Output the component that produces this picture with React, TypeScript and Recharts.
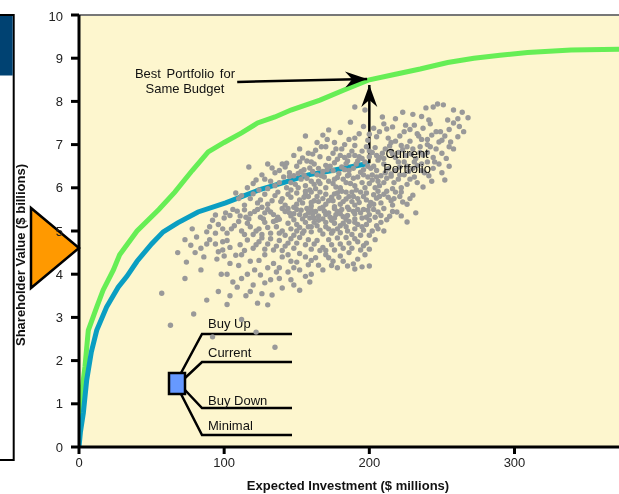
import React from "react";
import {
  ComposedChart,
  Line,
  Scatter,
  XAxis,
  YAxis,
  CartesianGrid,
  ReferenceLine,
  ReferenceDot,
  Customized,
} from "recharts";

const FONT = "Arial, 'Liberation Sans', Helvetica, sans-serif";

const xTicks = [0, 100, 200, 300];
const yTicks = [0, 1, 2, 3, 4, 5, 6, 7, 8, 9, 10];
const xLabel = "Expected Investment ($ millions)";
const yLabel = "Shareholder Value ($ billions)";
const optionLabels = ["Buy Up", "Current", "Buy Down", "Minimal"];
const currentLabel = ["Current", "Portfolio"];

// Efficient frontier (green): [investment $M, value $B]
const efficientFrontier: [number, number][] = [
  [0, 0.62], [1.8, 1.25], [4.1, 1.85], [6.4, 2.7], [12.2, 3.24], [16.6, 3.63],
  [23.7, 4.1], [28, 4.45], [40, 5.0], [55, 5.5], [66, 5.9], [78, 6.4],
  [89, 6.83], [100, 7.05], [112, 7.27], [123, 7.5], [135, 7.64], [146, 7.8],
  [166, 8.03], [183, 8.27], [200, 8.5], [218, 8.63], [235, 8.75], [254, 8.9],
  [272, 9.0], [290, 9.07], [309, 9.13], [339, 9.19], [372, 9.21],
];

// Current-budget frontier (blue)
const currentFrontier: [number, number][] = [
  [0, 0], [1, 0.35], [3, 0.79], [5.3, 1.55], [8.5, 2.2], [12.2, 2.7],
  [19, 3.24], [27, 3.7], [33, 3.95], [40, 4.3], [50, 4.7], [58, 4.98],
  [68, 5.19], [82, 5.44], [101, 5.65], [124, 5.95], [142, 6.13], [158, 6.3],
  [170, 6.37], [185, 6.47], [200, 6.57],
];

// Candidate portfolios (gray cloud), outer spread
const portfolios: [number, number][] = [
  [190, 7.87], [197, 7.8], [209, 7.64], [223, 7.75], [244, 7.87], [251, 7.92], [254, 7.57], [241, 7.57],
  [268, 7.62], [261, 7.6], [247, 7.94], [239, 7.85], [187, 7.52], [216, 7.41], [203, 7.38], [230, 7.7],
  [172, 7.34], [156, 7.2], [168, 7.22], [237, 7.38], [261, 7.18], [256, 7.06], [248, 7.06], [180, 7.28],
  [186, 7.12], [193, 7.25], [199, 7.1], [207, 7.3], [213, 7.15], [221, 7.2], [228, 7.08], [233, 7.25],
  [243, 7.22], [176, 7.05], [196, 7.42], [210, 7.48], [225, 7.45],
  [163, 6.87], [158, 6.8], [154, 6.69], [170, 6.95], [175, 6.8], [181, 6.9], [186, 6.75], [190, 6.98],
  [195, 6.85], [200, 6.72], [204, 6.93], [209, 6.8], [214, 6.97], [218, 6.7], [223, 6.88], [229, 6.78],
  [235, 6.95], [240, 6.82], [246, 6.9], [166, 6.72], [178, 6.66], [192, 6.62], [206, 6.64], [216, 6.78],
  [148, 6.75], [143, 6.57], [160, 6.6], [232, 6.68], [244, 6.7], [250, 6.8],
  [117, 6.48], [133, 6.46], [126, 6.3], [138, 6.4], [145, 6.35], [150, 6.5], [155, 6.42], [162, 6.55],
  [168, 6.38], [173, 6.5], [179, 6.33], [184, 6.56], [189, 6.45], [194, 6.36], [199, 6.5], [205, 6.4],
  [210, 6.55], [215, 6.32], [221, 6.48], [227, 6.38], [233, 6.52], [238, 6.35], [244, 6.45], [152, 6.6],
  [176, 6.58], [186, 6.3], [202, 6.3], [224, 6.6], [140, 6.55], [130, 6.55], [248, 6.55], [197, 6.6],
  [165, 6.45], [183, 6.42], [213, 6.44],
  [108, 5.88], [120, 6.1], [128, 6.2], [135, 6.05], [141, 6.25], [146, 6.12], [151, 6.0], [157, 6.22],
  [162, 6.08], [167, 6.28], [172, 6.15], [177, 6.02], [182, 6.2], [187, 6.1], [192, 6.25], [197, 6.0],
  [202, 6.18], [207, 6.05], [212, 6.22], [217, 6.12], [222, 6.0], [228, 6.2], [237, 6.02], [252, 6.18],
  [230, 5.83], [143, 6.0], [155, 6.3], [170, 6.0], [185, 6.28], [200, 6.1], [215, 6.27], [124, 5.95],
  [132, 6.15], [160, 6.15], [190, 6.05], [205, 6.25], [178, 6.24], [163, 5.98],
  [114, 5.6], [118, 5.75], [123, 5.65], [128, 5.85], [133, 5.7], [137, 5.9], [142, 5.6], [146, 5.78],
  [150, 5.88], [154, 5.65], [158, 5.8], [162, 5.7], [166, 5.9], [170, 5.62], [174, 5.78], [178, 5.88],
  [182, 5.68], [186, 5.8], [190, 5.6], [194, 5.9], [198, 5.72], [203, 5.84], [208, 5.65], [213, 5.78],
  [218, 5.9], [223, 5.67], [110, 5.75], [140, 5.75], [156, 5.92], [168, 5.75], [180, 5.95], [192, 5.75],
  [206, 5.92], [126, 5.55], [148, 5.55], [176, 5.56], [200, 5.58], [216, 5.6], [188, 5.9], [160, 5.58],
  [135, 5.82],
  [101, 5.42], [114, 5.49], [92, 5.25], [94, 5.37], [100, 5.3], [106, 5.5], [111, 5.35], [117, 5.28],
  [121, 5.45], [125, 5.32], [130, 5.5], [134, 5.38], [138, 5.27], [142, 5.45], [146, 5.35], [150, 5.5],
  [154, 5.28], [158, 5.42], [162, 5.3], [166, 5.52], [170, 5.38], [174, 5.25], [178, 5.45], [182, 5.33],
  [186, 5.5], [190, 5.28], [194, 5.42], [198, 5.32], [203, 5.5], [208, 5.36], [219, 5.44], [232, 5.42],
  [226, 5.21], [212, 5.26], [128, 5.42], [144, 5.52], [160, 5.48], [176, 5.52], [192, 5.5], [136, 5.25],
  [168, 5.28], [184, 5.27], [156, 5.36], [118, 5.4], [148, 5.26],
  [88, 4.98], [81, 4.86], [90, 5.1], [96, 5.15], [102, 4.95], [107, 5.12], [112, 5.0], [116, 5.18],
  [120, 4.92], [124, 5.05], [128, 5.2], [132, 4.95], [136, 5.1], [140, 5.0], [144, 5.18], [148, 4.9],
  [152, 5.08], [156, 5.2], [160, 4.98], [164, 5.12], [168, 4.93], [172, 5.05], [176, 5.18], [180, 4.96],
  [184, 5.1], [188, 4.92], [192, 5.15], [196, 5.02], [200, 4.9], [205, 5.12], [210, 5.0], [110, 5.22],
  [134, 5.22], [150, 5.0], [170, 5.2], [186, 5.22], [142, 4.9], [158, 5.1], [178, 5.05], [126, 4.92],
  [99, 5.05], [194, 4.9],
  [73, 4.8], [77, 4.67], [90, 4.8], [99, 4.75], [99, 4.56], [111, 4.68], [116, 4.79], [108, 4.44],
  [104, 4.62], [120, 4.6], [124, 4.75], [128, 4.58], [132, 4.82], [136, 4.65], [140, 4.55], [144, 4.72],
  [148, 4.6], [152, 4.85], [156, 4.68], [160, 4.58], [164, 4.78], [168, 4.62], [172, 4.8], [176, 4.56],
  [180, 4.7], [184, 4.85], [188, 4.6], [192, 4.75], [196, 4.66], [200, 4.58], [204, 4.8], [84, 4.6],
  [94, 4.7], [130, 4.7], [146, 4.82], [162, 4.7], [178, 4.84], [194, 4.56], [138, 4.78], [170, 4.55],
  [186, 4.72],
  [74, 4.28], [86, 4.4], [95, 4.35], [121, 4.1], [118, 4.3], [128, 4.45], [134, 4.25], [140, 4.4],
  [146, 4.3], [152, 4.48], [158, 4.22], [165, 4.21], [168, 4.1], [163, 4.38], [170, 4.45], [175, 4.3],
  [180, 4.42], [185, 4.19], [189, 4.24], [195, 4.17], [200, 4.19], [192, 4.35], [197, 4.45], [186, 4.5],
  [174, 4.2], [148, 4.15], [138, 4.15], [156, 4.4], [112, 4.45], [104, 4.25],
  [73, 3.9], [106, 3.82], [109, 3.7], [125, 3.98], [132, 3.87], [140, 3.68], [146, 3.87], [152, 4.1],
  [159, 3.82], [152, 3.63], [116, 4.0], [98, 4.0], [136, 4.05], [144, 4.05], [160, 4.0], [120, 3.75],
  [128, 3.8], [96, 3.6],
  [57, 3.56], [115, 3.5], [123, 3.33], [130, 3.29], [133, 3.52], [63, 2.82], [79, 3.08], [92, 2.55],
  [122, 2.66], [135, 2.31], [102, 3.3], [112, 2.95], [88, 3.4],
];

// Candidate portfolios (gray cloud), dense core
const portfoliosCore: [number, number][] = [
  [152, 6.9], [157, 6.62], [161, 6.78], [167, 6.95], [172, 6.68], [177, 6.9], [183, 6.7], [188, 6.85],
  [193, 6.72], [198, 6.95], [202, 6.82], [207, 6.7], [211, 6.9], [220, 6.82], [226, 6.95], [231, 6.6],
  [237, 6.76], [242, 6.95], [253, 6.68], [258, 6.9],
  [205, 7.18], [212, 7.36], [218, 7.08], [224, 7.3], [231, 7.45], [236, 7.12], [242, 7.48], [249, 7.3],
  [255, 7.35], [262, 7.42], [183, 7.0], [190, 7.15], [200, 7.24], [171, 7.12], [164, 7.05], [264, 7.75],
  [258, 7.8], [236, 7.65], [218, 7.6],
  [135, 6.35], [142, 6.48], [148, 6.28], [153, 6.38], [159, 6.46], [164, 6.3], [170, 6.52], [175, 6.4],
  [181, 6.48], [191, 6.55], [196, 6.42], [203, 6.5], [208, 6.28], [218, 6.4], [224, 6.3], [230, 6.45],
  [236, 6.55], [241, 6.28], [250, 6.35], [255, 6.5],
  [116, 6.0], [122, 6.18], [130, 5.98], [138, 6.12], [145, 6.26], [149, 6.08], [153, 6.2], [159, 5.95],
  [165, 6.15], [169, 6.25], [175, 6.1], [180, 6.0], [184, 6.12], [189, 6.22], [195, 6.12], [199, 6.25],
  [204, 6.0], [210, 6.12], [220, 6.2], [226, 6.08], [233, 6.12], [243, 6.15],
  [112, 5.82], [120, 5.86], [125, 5.72], [130, 5.62], [139, 5.68], [144, 5.85], [152, 5.72], [156, 5.84],
  [160, 5.66], [164, 5.8], [172, 5.7], [176, 5.86], [180, 5.62], [184, 5.74], [188, 5.68], [196, 5.8],
  [201, 5.66], [205, 5.76], [210, 5.85], [215, 5.7], [221, 5.8], [226, 5.62],
  [104, 5.36], [109, 5.46], [115, 5.32], [123, 5.5], [127, 5.28], [132, 5.44], [137, 5.32], [140, 5.52],
  [145, 5.42], [152, 5.38], [157, 5.52], [161, 5.4], [165, 5.35], [169, 5.46], [173, 5.32], [177, 5.38],
  [181, 5.5], [185, 5.36], [189, 5.45], [196, 5.5], [200, 5.38], [206, 5.44], [214, 5.34],
  [94, 4.95], [105, 5.05], [114, 4.92], [118, 5.1], [122, 5.0], [130, 5.08], [138, 4.95], [146, 5.05],
  [154, 4.95], [162, 5.2], [166, 5.02], [174, 4.95], [182, 5.18], [190, 5.05], [198, 5.15], [202, 5.0],
  [208, 5.2],
  [88, 4.7], [96, 4.52], [102, 4.78], [114, 4.55], [122, 4.68], [126, 4.84], [134, 4.56], [142, 4.65],
  [150, 4.72], [158, 4.8], [166, 4.55], [174, 4.68], [182, 4.6], [190, 4.82], [198, 4.72],
  [100, 4.42], [110, 4.2], [124, 4.32], [130, 4.15], [144, 4.45], [150, 4.28], [160, 4.32], [172, 4.38],
  [178, 4.15], [182, 4.3], [190, 4.12],
  [102, 4.0], [112, 3.9], [118, 3.6], [126, 3.55], [138, 3.9], [148, 3.75], [156, 3.95], [104, 3.5],
  [84, 4.1], [68, 4.5], [80, 4.5], [78, 5.05],
];

// Candidate portfolios (gray cloud), densest center
const portfoliosCenter: [number, number][] = [
  [146, 5.95], [151, 6.33], [156, 6.05], [161, 6.38], [166, 6.1], [171, 6.42], [176, 6.2], [181, 5.92],
  [186, 6.4], [191, 5.95], [196, 6.3], [201, 6.45], [206, 6.15], [211, 6.35], [216, 5.98], [221, 6.3],
  [226, 6.5], [231, 6.25], [236, 6.4], [240, 6.6],
  [150, 5.62], [155, 5.78], [160, 5.9], [165, 5.68], [170, 5.85], [175, 5.7], [179, 5.78], [184, 5.9],
  [189, 5.8], [193, 5.66], [198, 5.88], [203, 5.62], [207, 5.8], [212, 5.92], [217, 5.75], [222, 5.9],
  [228, 5.75],
  [148, 5.4], [153, 5.48], [159, 5.3], [163, 5.45], [168, 5.55], [172, 5.42], [176, 5.3], [180, 5.4],
  [185, 5.55], [190, 5.4], [195, 5.3], [199, 5.48], [204, 5.32], [210, 5.52], [216, 5.45], [222, 5.35],
  [150, 5.15], [155, 5.0], [160, 5.1], [165, 5.25], [170, 5.1], [175, 5.0], [180, 5.12], [185, 5.0],
  [190, 5.2], [195, 5.1], [200, 5.25], [206, 5.05],
  [180, 6.75], [185, 6.62], [190, 6.75], [195, 6.68], [200, 6.85], [205, 6.75], [210, 6.68], [215, 6.85],
  [220, 6.6], [225, 6.75], [230, 6.9], [235, 6.82], [240, 7.0], [245, 6.6], [250, 7.1], [255, 6.95],
  [215, 7.05], [222, 6.98], [228, 7.35], [234, 7.2], [240, 7.12], [246, 7.3], [252, 7.2], [258, 7.5],
  [265, 7.3],
];

const toXY = (arr: [number, number][]) => arr.map(([x, y]) => ({ x, y }));
const greenData = toXY(efficientFrontier);
const blueData = toXY(currentFrontier);
const cloudData = toXY([...portfolios, ...portfoliosCore, ...portfoliosCenter]);

// arrow endpoints in data units
const hArrowFrom = { x: 109, y: 8.45 };
const hArrowTo = { x: 198.5, y: 8.52 };
const vArrowFrom = { x: 200, y: 6.57 };
const vArrowTo = { x: 200, y: 8.38 };
const currentLabelAt = { x: 226, y: 6.63 };

const makeArrowHead = (angleDeg: number) => (props: any) => {
  const { cx, cy } = props;
  if (cx == null || cy == null) return <g />;
  return (
    <polygon
      points="0,0 -22,-8 -15,0 -22,8"
      fill="#000"
      transform={`translate(${cx},${cy}) rotate(${angleDeg})`}
    />
  );
};

const CurrentText = (props: any) => {
  const { cx, cy } = props;
  if (cx == null || cy == null) return <g />;
  return (
    <g>
      {currentLabel.map((t, i) => (
        <text
          key={t}
          x={cx}
          y={cy + (i === 0 ? -7.5 : 7.5)}
          textAnchor="middle"
          dominantBaseline="central"
          style={{ fontFamily: FONT, fontSize: 13, fill: "#111" }}
        >
          {t}
        </text>
      ))}
    </g>
  );
};

const Dot = (props: any) => {
  const { cx, cy } = props;
  if (cx == null || cy == null) return <g />;
  return <circle cx={cx} cy={cy} r={2.7} fill="#999999" />;
};

const Decor = () => {
  const textStyle = { fontFamily: FONT, fontSize: 13, fill: "#111" };
  const tree = [
    { s: [173, 365], m: [194, 326], e: [284, 326], ty: 315 },
    { s: [177, 370], m: [194, 354], e: [284, 354], ty: 344 },
    { s: [177, 382], m: [194, 400], e: [284, 400], ty: 392 },
    { s: [173, 386], m: [194, 427], e: [284, 427], ty: 417 },
  ];
  return (
    <g transform="translate(8,0)">
      {/* left panel */}
      <rect x={-12} y={7} width={17.7} height={445} fill="#ffffff" stroke="#000" strokeWidth={2} />
      <rect x={-11} y={8} width={15.7} height={59.5} fill="#004272" />
      {/* y axis title */}
      <text
        x={12}
        y={247}
        transform="rotate(-90, 12, 247)"
        textAnchor="middle"
        dominantBaseline="central"
        style={{ fontFamily: FONT, fontSize: 13, fontWeight: "bold", fill: "#111" }}
      >
        {yLabel}
      </text>
      {/* orange triangle */}
      <polygon points="23,200 23,280 71,240" fill="#FF9900" stroke="#000" strokeWidth={2.5} strokeLinejoin="miter" />
      {/* x axis title */}
      <text
        x={340}
        y={477}
        textAnchor="middle"
        dominantBaseline="central"
        style={{ fontFamily: FONT, fontSize: 13, fontWeight: "bold", fill: "#111" }}
      >
        {xLabel}
      </text>
      {/* annotations */}
      <text x={177} y={65} textAnchor="middle" dominantBaseline="central" style={textStyle} wordSpacing={2}>
        Best Portfolio for
      </text>
      <text x={177} y={80} textAnchor="middle" dominantBaseline="central" style={textStyle}>
        Same Budget
      </text>
      {/* decision tree */}
      {tree.map((b, i) => (
        <g key={i}>
          <polyline
            points={`${b.s[0]},${b.s[1]} ${b.m[0]},${b.m[1]} ${b.e[0]},${b.e[1]}`}
            fill="none"
            stroke="#000"
            strokeWidth={2.5}
          />
          <text x={200} y={b.ty} dominantBaseline="central" style={textStyle}>
            {optionLabels[i]}
          </text>
        </g>
      ))}
      <rect x={161} y={365} width={16} height={21} fill="#6699FF" stroke="#000" strokeWidth={2.5} />
    </g>
  );
};

export default function App() {
  return (
    <div style={{ position: "fixed", left: 0, top: 8, width: 619, height: 486 }}>
      <ComposedChart
        width={619}
        height={486}
        margin={{ top: 7, right: 0, bottom: 0, left: 8 }}
      >
        <CartesianGrid horizontal={false} vertical={false} fill="#FDF6CE" stroke="none" />
        <XAxis
          type="number"
          dataKey="x"
          domain={[0, 372]}
          ticks={xTicks}
          allowDataOverflow
          height={47}
          axisLine={{ stroke: "#000", strokeWidth: 3 }}
          tickLine={{ stroke: "#000", strokeWidth: 3 }}
          tickSize={7}
          tickMargin={4}
          tick={{ fontFamily: FONT, fontSize: 13, fill: "#222" }}
        />
        <YAxis
          type="number"
          dataKey="y"
          domain={[0, 10]}
          ticks={yTicks}
          allowDataOverflow
          width={71}
          axisLine={{ stroke: "#000", strokeWidth: 3 }}
          tickLine={{ stroke: "#000", strokeWidth: 3 }}
          tickSize={8}
          tickMargin={8}
          tick={{ fontFamily: FONT, fontSize: 13, fill: "#222" }}
        />
        <ReferenceLine y={10} stroke="#777" strokeWidth={2} />
        <Scatter data={cloudData} dataKey="y" shape={Dot} isAnimationActive={false} />
        <Line
          data={greenData}
          dataKey="y"
          type="linear"
          stroke="#66EE55"
          strokeWidth={5}
          dot={false}
          activeDot={false}
          isAnimationActive={false}
        />
        <Line
          data={blueData}
          dataKey="y"
          type="linear"
          stroke="#0A9EC2"
          strokeWidth={5}
          dot={false}
          activeDot={false}
          isAnimationActive={false}
        />
        <ReferenceLine segment={[hArrowFrom, hArrowTo]} stroke="#000" strokeWidth={2.5} />
        <ReferenceLine segment={[vArrowFrom, vArrowTo]} stroke="#000" strokeWidth={2.5} />
        <ReferenceDot x={hArrowTo.x} y={hArrowTo.y} shape={makeArrowHead(-1.5)} />
        <ReferenceDot x={vArrowTo.x} y={vArrowTo.y} shape={makeArrowHead(-90)} />
        <ReferenceDot x={currentLabelAt.x} y={currentLabelAt.y} shape={CurrentText} />
        <Customized component={Decor} />
      </ComposedChart>
    </div>
  );
}
